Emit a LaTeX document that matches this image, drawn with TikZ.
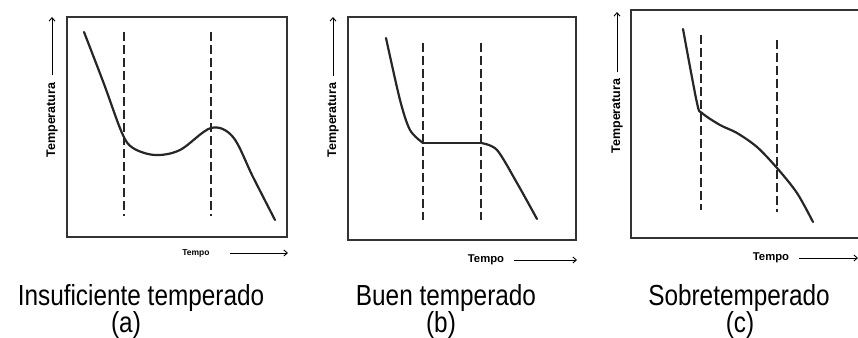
\documentclass[tikz,border=0pt]{standalone}
\usepackage{fontspec}
\usepackage{graphicx}
\setmainfont{Liberation Sans}
\usetikzlibrary{arrows.meta}

\newcommand{\condensed}[1]{\scalebox{0.84}[1]{#1}}

\begin{document}
\begin{tikzpicture}[x=1pt,y=-1pt,
  frame/.style={draw=black!80,line width=1.6pt},
  curve/.style={black!85,line width=2.2pt,line join=round,line cap=round},
  guide/.style={black!85,line width=1.2pt,dash pattern=on 9pt off 4pt},
  axis/.style={black,line width=0.9pt,-{Straight Barb[length=3.5pt,width=6pt]}},
  axlabel/.style={inner sep=0pt,font=\fontsize{12.5}{12.5}\selectfont\bfseries},
  timelabel/.style={inner sep=0pt,font=\fontsize{11.3}{11.3}\selectfont\bfseries},
  caption/.style={anchor=base,inner sep=0pt,font=\fontsize{29}{29}\selectfont}]

\useasboundingbox (0,0) rectangle (858,337);

% panel (a)
\coordinate (A1) at (67,17);
\coordinate (A2) at (287,237);
\draw[frame] (A1) rectangle (A2);

\draw[guide] (124,32) -- (124,216);
\draw[guide] (211,32) -- (211,216);
\draw[curve] plot[smooth,tension=0.55] coordinates {(84,32) (104,84) (122,133) (133,148)
  (155,155) (180,150) (211,128) (233,137) (253,177) (275,220)};

\node[axlabel,rotate=90] (tempA) at (52,120) {Temperatura};
\coordinate (tempAtop) at (52,17);
\draw[axis] ([yshift=7pt]tempA.east) -- (tempAtop);
\node[timelabel,font=\fontsize{8.5}{8.5}\selectfont\bfseries] (timeA) at (196,253) {Tempo};
\coordinate (timeAend) at (288,253);
\draw[axis] ([xshift=20pt]timeA.east) -- (timeAend);

\node[caption] (capA) at (141,305) {\condensed{Insuficiente temperado}};
\node[caption] (labA) at (126,332) {\condensed{(a)}};

% panel (b)
\coordinate (B1) at (348,17);
\coordinate (B2) at (576,240);
\draw[frame] (B1) rectangle (B2);

\draw[guide] (423,43) -- (423,220);
\draw[guide] (481,43) -- (481,220);
\draw[curve] plot[smooth,tension=0.5] coordinates {(386,38) (400,100) (410,130) (423,143)};
\draw[curve] (423,143) -- (481,143);
\draw[curve] plot[smooth,tension=0.5] coordinates {(481,143) (497,150) (517,183) (537,219)};

\node[axlabel,rotate=90] (tempB) at (333,120) {Temperatura};
\coordinate (tempBtop) at (333,17);
\draw[axis] ([yshift=6pt]tempB.east) -- (tempBtop);
\node[timelabel] (timeB) at (486,260) {Tempo};
\coordinate (timeBend) at (577,260);
\draw[axis] ([xshift=10pt]timeB.east) -- (timeBend);

\node[caption] (capB) at (446,305) {\condensed{Buen temperado}};
\node[caption] (labB) at (441,332) {\condensed{(b)}};

% panel (c)
\coordinate (C1) at (631,10);
\coordinate (C2) at (870,238);
\draw[frame] (C1) rectangle (C2);

\draw[guide] (701,35) -- (701,210);
\draw[guide] (777,40) -- (777,212);
\draw[curve] plot[smooth,tension=0.5] coordinates {(683,29) (697,103) (702,113) (720,125)
  (737,133) (757,147) (777,168) (797,193) (813,222)};

\node[axlabel,rotate=90] (tempC) at (617,116) {Temperatura};
\coordinate (tempCtop) at (617,12);
\draw[axis] ([yshift=6pt]tempC.east) -- (tempCtop);
\node[timelabel] (timeC) at (771,258) {Tempo};
\coordinate (timeCend) at (858,258);
\draw[axis] ([xshift=10pt]timeC.east) -- (timeCend);

\node[caption] (capC) at (739,305) {\condensed{Sobretemperado}};
\node[caption] (labC) at (740,332) {\condensed{(c)}};

\end{tikzpicture}
\end{document}
